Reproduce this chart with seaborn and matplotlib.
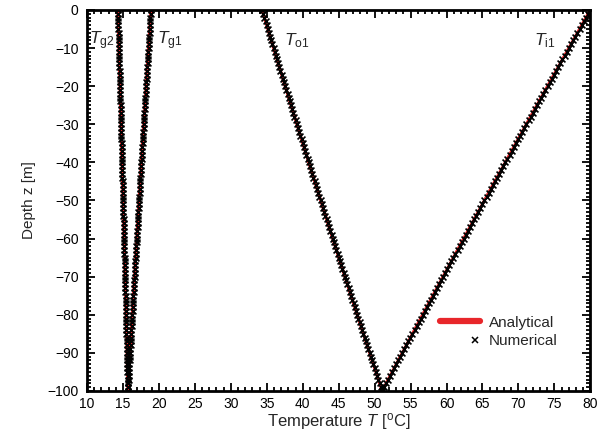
import matplotlib
matplotlib.use("Agg")
import matplotlib.pyplot as plt
import seaborn as sns
import pandas as pd
from matplotlib.ticker import MultipleLocator
from matplotlib.lines import Line2D
from matplotlib.legend_handler import HandlerTuple

# ---- data ----
depth = list(range(0, -101, -1))

T_g1 = [18.90, 18.87, 18.83, 18.80, 18.76, 18.73, 18.70, 18.66, 18.63, 18.60,
        18.56, 18.53, 18.49, 18.46, 18.43, 18.39, 18.36, 18.33, 18.29, 18.26,
        18.23, 18.19, 18.16, 18.13, 18.10, 18.06, 18.03, 18.00, 17.96, 17.93,
        17.90, 17.87, 17.83, 17.80, 17.77, 17.73, 17.70, 17.67, 17.64, 17.60,
        17.57, 17.54, 17.51, 17.48, 17.44, 17.41, 17.38, 17.35, 17.31, 17.28,
        17.25, 17.22, 17.19, 17.15, 17.12, 17.09, 17.06, 17.03, 17.00, 16.96,
        16.93, 16.90, 16.87, 16.84, 16.81, 16.77, 16.74, 16.71, 16.68, 16.65,
        16.62, 16.59, 16.56, 16.52, 16.49, 16.46, 16.43, 16.40, 16.37, 16.34,
        16.31, 16.28, 16.25, 16.22, 16.19, 16.15, 16.12, 16.09, 16.06, 16.03,
        16.00, 15.97, 15.94, 15.91, 15.88, 15.85, 15.82, 15.79, 15.76, 15.73,
        15.70]

T_g2 = [14.30, 14.31, 14.33, 14.34, 14.36, 14.37, 14.39, 14.40, 14.42, 14.43,
        14.45, 14.46, 14.48, 14.49, 14.51, 14.52, 14.54, 14.55, 14.57, 14.58,
        14.60, 14.61, 14.63, 14.64, 14.65, 14.67, 14.68, 14.70, 14.71, 14.73,
        14.74, 14.76, 14.77, 14.78, 14.80, 14.81, 14.83, 14.84, 14.86, 14.87,
        14.88, 14.90, 14.91, 14.93, 14.94, 14.95, 14.97, 14.98, 15.00, 15.01,
        15.02, 15.04, 15.05, 15.07, 15.08, 15.09, 15.11, 15.12, 15.14, 15.15,
        15.16, 15.18, 15.19, 15.21, 15.22, 15.23, 15.25, 15.26, 15.27, 15.29,
        15.30, 15.31, 15.33, 15.34, 15.36, 15.37, 15.38, 15.40, 15.41, 15.42,
        15.44, 15.45, 15.46, 15.48, 15.49, 15.50, 15.52, 15.53, 15.54, 15.56,
        15.57, 15.58, 15.60, 15.61, 15.62, 15.63, 15.65, 15.66, 15.67, 15.69,
        15.70]

T_o1 = [34.35, 34.51, 34.67, 34.83, 34.99, 35.15, 35.31, 35.47, 35.63, 35.79,
        35.95, 36.11, 36.27, 36.43, 36.59, 36.75, 36.91, 37.08, 37.24, 37.40,
        37.56, 37.72, 37.89, 38.05, 38.21, 38.38, 38.54, 38.70, 38.86, 39.03,
        39.19, 39.36, 39.52, 39.68, 39.85, 40.01, 40.18, 40.34, 40.51, 40.67,
        40.84, 41.00, 41.17, 41.33, 41.50, 41.67, 41.83, 42.00, 42.17, 42.33,
        42.50, 42.67, 42.83, 43.00, 43.17, 43.34, 43.50, 43.67, 43.84, 44.01,
        44.18, 44.35, 44.52, 44.68, 44.85, 45.02, 45.19, 45.36, 45.53, 45.70,
        45.87, 46.04, 46.21, 46.38, 46.55, 46.72, 46.90, 47.07, 47.24, 47.41,
        47.58, 47.75, 47.93, 48.10, 48.27, 48.44, 48.62, 48.79, 48.96, 49.13,
        49.31, 49.48, 49.66, 49.83, 50.00, 50.18, 50.35, 50.53, 50.70, 50.88,
        51.05]

T_i1 = [80.00, 79.70, 79.40, 79.10, 78.80, 78.51, 78.21, 77.91, 77.61, 77.31,
        77.01, 76.72, 76.42, 76.12, 75.83, 75.53, 75.23, 74.94, 74.64, 74.35,
        74.05, 73.75, 73.46, 73.16, 72.87, 72.57, 72.28, 71.99, 71.69, 71.40,
        71.10, 70.81, 70.52, 70.23, 69.93, 69.64, 69.35, 69.06, 68.76, 68.47,
        68.18, 67.89, 67.60, 67.31, 67.02, 66.72, 66.43, 66.14, 65.85, 65.56,
        65.27, 64.99, 64.70, 64.41, 64.12, 63.83, 63.54, 63.25, 62.97, 62.68,
        62.39, 62.10, 61.82, 61.53, 61.24, 60.95, 60.67, 60.38, 60.10, 59.81,
        59.52, 59.24, 58.95, 58.67, 58.38, 58.10, 57.82, 57.53, 57.25, 56.96,
        56.68, 56.40, 56.11, 55.83, 55.55, 55.26, 54.98, 54.70, 54.42, 54.14,
        53.85, 53.57, 53.29, 53.01, 52.73, 52.45, 52.17, 51.89, 51.61, 51.33,
        51.05]

curve_names = ["Tg1", "Tg2", "To1", "Ti1"]
curve_labels = [r"$T_{\rm g1}$", r"$T_{\rm g2}$", r"$T_{\rm o1}$", r"$T_{\rm i1}$"]
label_pos = [(21.5, -8), (12.1, -8), (39.2, -8), (73.7, -8)]
legend_labels = ["Analytical", "Numerical"]

frames = []
for name, vals in zip(curve_names, [T_g1, T_g2, T_o1, T_i1]):
    frames.append(pd.DataFrame({"curve": name, "T": vals, "z": depth}))
df = pd.concat(frames, ignore_index=True)

# ---- style ----
sns.set_style("ticks")
plt.rcParams["font.family"] = ["Liberation Sans", "DejaVu Sans"]
plt.rcParams["mathtext.fontset"] = "custom"
plt.rcParams["mathtext.rm"] = "Liberation Sans"
plt.rcParams["mathtext.it"] = "Liberation Sans:italic"
plt.rcParams["mathtext.bf"] = "Liberation Sans:bold"

red = "#e8262a"

fig = plt.figure(figsize=(6.08, 4.32), dpi=100)
ax = fig.add_axes([0.143, 0.095, 0.828, 0.882])

for name in curve_names:
    sub = df[df["curve"] == name]
    sns.lineplot(data=sub, x="T", y="z", sort=False, estimator=None,
                 color=red, linewidth=2.2, ax=ax, legend=False)
for name in curve_names:
    sub = df[df["curve"] == name]
    sns.scatterplot(data=sub, x="T", y="z", marker="x", color="black",
                    s=18, linewidth=1.2, ax=ax, legend=False, zorder=3)

for lab, (x, y) in zip(curve_labels, label_pos):
    ax.text(x, y, lab, fontsize=12.5, ha="center", va="center")

ax.set_xlim(10, 80)
ax.set_ylim(-100, 0)
ax.xaxis.set_major_locator(MultipleLocator(5))
ax.xaxis.set_minor_locator(MultipleLocator(1))
ax.yaxis.set_major_locator(MultipleLocator(10))
ax.yaxis.set_minor_locator(MultipleLocator(1))
ax.tick_params(which="both", direction="in", top=True, right=True,
               width=1.3, labelsize=10, colors="black")
ax.tick_params(which="major", length=6)
ax.tick_params(axis="x", which="major", pad=4)
ax.tick_params(axis="y", which="major", pad=6)
ax.tick_params(which="minor", length=3)
for sp in ax.spines.values():
    sp.set_linewidth(2.0)
    sp.set_color("black")

ax.set_xlabel(r"Temperature $T$ [$^{\rm o}$C]", fontsize=12, labelpad=0)
ax.set_ylabel("Depth z [m]", fontsize=11, labelpad=8)

blank = Line2D([], [], linestyle="none")
marker_handle = Line2D([], [], color="black", marker="x", linestyle="none",
                       markersize=4, markeredgewidth=1.1)
handles = [Line2D([0], [0], color=red, linewidth=4.5, solid_capstyle="round"),
           (blank, blank, blank, marker_handle)]
ax.legend(handles, legend_labels, loc="center left",
          bbox_to_anchor=(0.69, 0.155), borderaxespad=0, frameon=False,
          fontsize=11, handlelength=2.6, handletextpad=0.55, labelspacing=0.3,
          handler_map={tuple: HandlerTuple(ndivide=4, pad=0)})

fig.savefig("out.png", dpi=100)
